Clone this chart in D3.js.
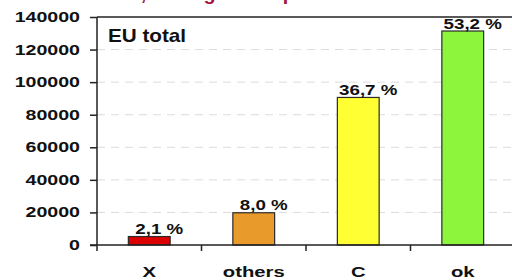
<!DOCTYPE html>
<html>
<head>
<meta charset="utf-8">
<script src="https://cdn.jsdelivr.net/npm/d3@7"></script>
<style>
  body { margin: 0; background: #fff; }
  svg { display: block; }
  text { font-family: "Liberation Sans", Arial, sans-serif; font-weight: bold; fill: #111; }
</style>
</head>
<body>
<svg id="chart" width="512" height="280"></svg>
<script>
var categories = ["X", "others", "C", "ok"];
var counts = [5200, 19800, 90600, 131400];
var shares = ["2,1 %", "8,0 %", "36,7 %", "53,2 %"];
var colors = ["#dd0000", "#e89a2a", "#ffff33", "#8cf53c"];
var y_ticks = [0, 20000, 40000, 60000, 80000, 100000, 120000, 140000];

var svg = d3.select('svg#chart');

var left = 97, right = 515, top_ = 17, bottom = 245;

var x = d3.scaleBand().domain(categories).range([left, right])
    .paddingInner(0.6).paddingOuter(0.3);
var y = d3.scaleLinear().domain([0, 140000]).range([bottom, top_]);

// stretched bold text, the source chart was squeezed sideways
function label(txt, px, py, size, sx, anchor, fill){
    var t = svg.append('text')
        .attr('transform', 'translate(' + px + ',' + py + ') scale(' + sx + ',1)')
        .attr('font-size', size)
        .attr('text-anchor', anchor)
        .text(txt);
    if (fill) t.style('fill', fill);
    return t;
}

// title sits mostly above the visible area, only descenders show
label("Total, average in all ports", 95, 0, 18, 1.1, 'start', '#a3123f');

// dashed grid
svg.append('g').selectAll('line')
    .data(y_ticks.filter(function(d){ return d > 0 && d < 140000; }))
    .join('line')
    .attr('x1', left).attr('x2', 512)
    .attr('y1', function(d){ return y(d); }).attr('y2', function(d){ return y(d); })
    .attr('stroke', '#dcdcdc').attr('stroke-width', 1)
    .attr('stroke-dasharray', '8 6');

// bars
svg.append('g').selectAll('rect')
    .data(categories)
    .join('rect')
    .attr('x', function(d){ return x(d); })
    .attr('width', x.bandwidth())
    .attr('y', function(d, i){ return y(counts[i]); })
    .attr('height', function(d, i){ return y(0) - y(counts[i]); })
    .attr('fill', function(d, i){ return colors[i]; })
    .attr('stroke', '#2a2a2a').attr('stroke-width', 1.2);

// y axis
var yAxis = d3.axisLeft(y).tickValues(y_ticks).tickSize(7).tickFormat('');
var ga = svg.append('g').attr('transform', 'translate(' + left + ',0)').call(yAxis);
ga.select('.domain').attr('d', 'M0,' + top_ + 'V' + (bottom + 6));
ga.selectAll('line, path').attr('stroke', '#222').attr('stroke-width', 1.5);

y_ticks.forEach(function(d){
    label(String(d), 80, y(d) + 5, 14, 1.4, 'end');
});

// x axis line with ticks between bands
svg.append('line').attr('x1', left - 7).attr('x2', 512)
    .attr('y1', bottom).attr('y2', bottom)
    .attr('stroke', '#222').attr('stroke-width', 1.5);
var step = x.step();
svg.append('g').selectAll('line')
    .data(categories.slice(1))
    .join('line')
    .attr('x1', function(d){ return x(d) - x.paddingOuter() * step; })
    .attr('x2', function(d){ return x(d) - x.paddingOuter() * step; })
    .attr('y1', bottom).attr('y2', bottom + 6)
    .attr('stroke', '#222').attr('stroke-width', 1.5);

// top frame line
svg.append('line').attr('x1', left).attr('x2', 512)
    .attr('y1', top_).attr('y2', top_)
    .attr('stroke', '#222').attr('stroke-width', 1.5);

// category labels
categories.forEach(function(c){
    label(c, x(c) + x.bandwidth() / 2, 277, 15, 1.35, 'middle');
});

// share labels
categories.forEach(function(c, i){
    label(shares[i], x(c) + x.bandwidth() / 2 + 10, y(counts[i]) - 2.5, 15, 1.25, 'middle');
});

label("EU total", 108, 42, 18, 1.15, 'start');
</script>
</body>
</html>
